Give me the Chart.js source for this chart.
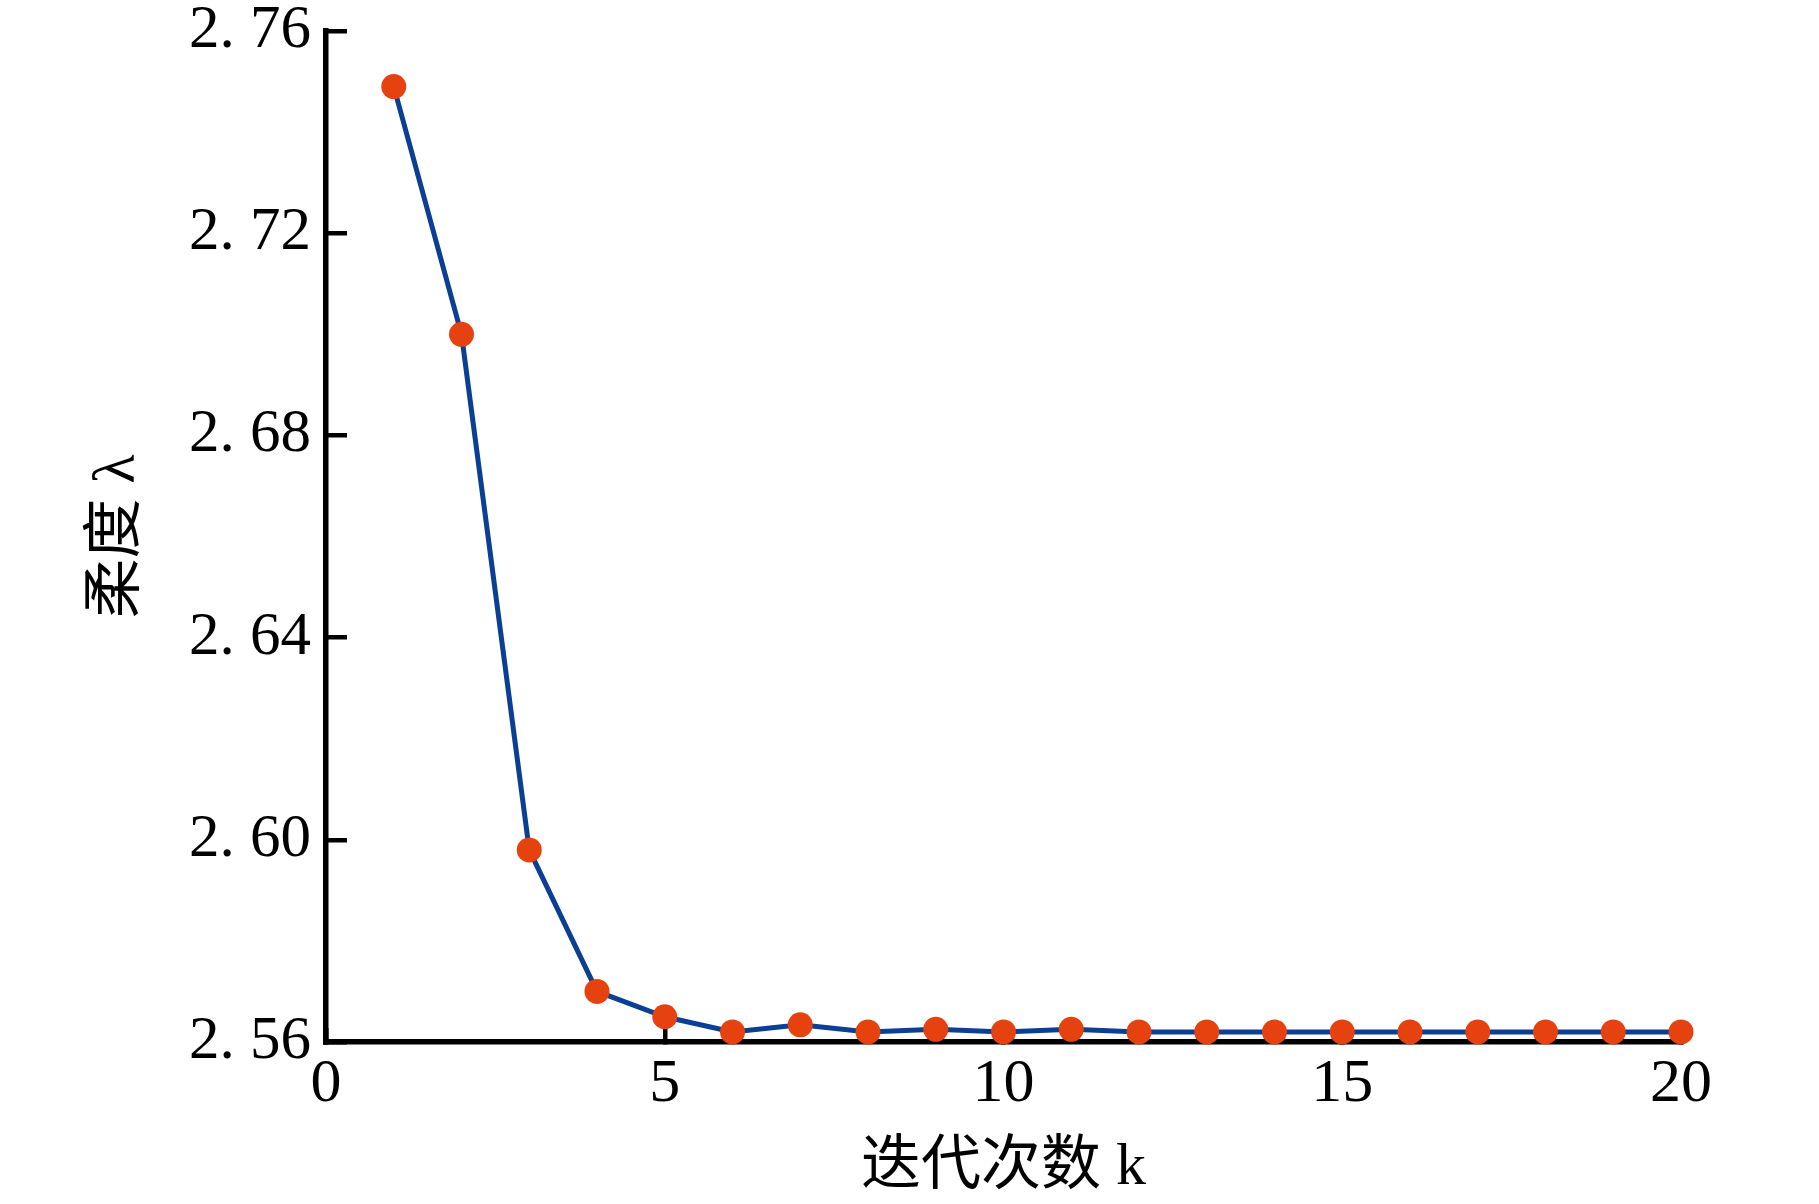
<!DOCTYPE html>
<html>
<head>
<meta charset="utf-8">
<script src="https://cdn.jsdelivr.net/npm/chart.js@4/dist/chart.umd.min.js"></script>
<style>
  html, body { margin: 0; padding: 0; background: #ffffff; }
  #wrap { width: 1819px; height: 1204px; }
</style>
</head>
<body>
<div id="wrap"><canvas id="c" width="1819" height="1204"></canvas></div>
<script>
// ---- data ----
const iterations = [1, 2, 3, 4, 5, 6, 7, 8, 9, 10, 11, 12, 13, 14, 15, 16, 17, 18, 19, 20];
const compliance = [2.749, 2.700, 2.598, 2.570, 2.565, 2.562, 2.5634, 2.562, 2.5625, 2.562,
                    2.5625, 2.562, 2.562, 2.562, 2.562, 2.562, 2.562, 2.562, 2.562, 2.562];
const xTitle = '迭代次数 k';
const yTitle = '柔度 λ';
const xRange = [0, 20];
const yRange = [2.56, 2.76];
const xStep = 5;
const yStep = 0.04;

const points = iterations.map((k, i) => ({ x: k, y: compliance[i] }));

const serif = "'Liberation Serif', 'DejaVu Serif', serif";
const cjk = "'Liberation Serif', 'Noto Sans CJK SC', serif";

new Chart(document.getElementById('c'), {
  type: 'line',
  data: {
    datasets: [{
      data: points,
      borderColor: '#0b3f93',
      borderWidth: 5,
      pointBackgroundColor: '#e5420f',
      pointBorderColor: '#e5420f',
      pointBorderWidth: 0,
      pointRadius: 12.5,
      pointHoverRadius: 12.5,
      tension: 0,
      clip: false
    }]
  },
  options: {
    responsive: false,
    animation: false,
    events: [],
    layout: { padding: { top: 31, right: 138, left: 0, bottom: 0 } },
    plugins: { legend: { display: false }, tooltip: { enabled: false } },
    scales: {
      x: {
        type: 'linear',
        min: xRange[0],
        max: xRange[1],
        afterFit: s => { s.height = 162; s.paddingLeft = 0; s.paddingRight = 0; },
        border: { display: true, color: '#000', width: 5.5 },
        grid: { drawOnChartArea: false, drawTicks: true, tickLength: -14, color: '#000', lineWidth: 4.5 },
        ticks: {
          stepSize: xStep,
          padding: 20,
          color: '#000',
          font: { family: serif, size: 62 },
          maxRotation: 0,
          callback: v => String(v)
        },
        title: {
          display: true,
          text: xTitle,
          color: '#000',
          font: { family: cjk, size: 60 },
          padding: { top: 0, bottom: 0 }
        }
      },
      y: {
        type: 'linear',
        min: yRange[0],
        max: yRange[1],
        afterFit: s => { s.width = 326; s.paddingTop = 0; s.paddingBottom = 0; },
        border: { display: true, color: '#000', width: 5.5 },
        grid: { drawOnChartArea: false, drawTicks: true, tickLength: -21, color: '#000', lineWidth: 4.5 },
        ticks: {
          stepSize: yStep,
          padding: 36,
          color: '#000',
          font: { family: serif, size: 61 },
          callback: v => v.toFixed(2).replace('.', '. ')
        },
        title: {
          display: true,
          text: yTitle,
          color: '#000',
          font: { family: cjk, size: 60 },
          padding: { top: 82, bottom: 0 }
        }
      }
    }
  }
});
</script>
</body>
</html>
